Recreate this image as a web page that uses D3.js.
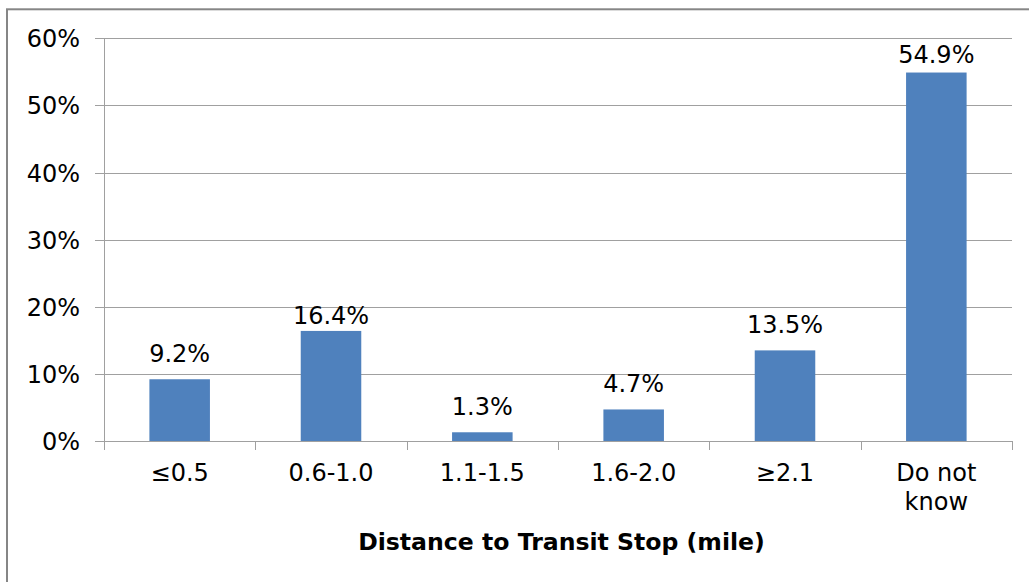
<!DOCTYPE html>
<html>
<head>
<meta charset="utf-8">
<script src="https://cdn.jsdelivr.net/npm/d3@7"></script>
<style>
  html, body { margin: 0; padding: 0; background: #fff; }
  svg { display: block; }
  text { font-family: "DejaVu Sans", Verdana, sans-serif; fill: #000; }
</style>
</head>
<body>
<svg id="chart" width="1029" height="582"></svg>
<script>
// Share of respondents by distance to the nearest transit stop
const categories = ["≤0.5", "0.6-1.0", "1.1-1.5", "1.6-2.0", "≥2.1", "Do not know"];
const values = [9.2, 16.4, 1.3, 4.7, 13.5, 54.9];
const yTicks = [0, 10, 20, 30, 40, 50, 60];
const xTitle = "Distance to Transit Stop (mile)";

const svg = d3.select("#chart");
const W = 1029, H = 582;
const plot = { left: 104, right: 1012, top: 38.3, bottom: 441 };
const fontSize = 24;

// outer frame (extends past the right and bottom edges)
svg.append("rect")
  .attr("x", 7).attr("y", 9.3)
  .attr("width", W + 20).attr("height", H + 20)
  .attr("fill", "#fff")
  .attr("stroke", "#868686").attr("stroke-width", 2);

const x = d3.scaleBand().domain(categories).range([plot.left, plot.right]).padding(0);
const y = d3.scaleLinear().domain([0, 60]).range([plot.bottom, plot.top]);

// horizontal gridlines
svg.append("g")
  .selectAll("line")
  .data(yTicks)
  .join("line")
  .attr("x1", plot.left - 9).attr("x2", plot.right)
  .attr("y1", d => Math.round(y(d)) + 0.5).attr("y2", d => Math.round(y(d)) + 0.5)
  .attr("stroke", "#a0a0a0").attr("stroke-width", 1);

// y axis line
svg.append("line")
  .attr("x1", plot.left + 0.5).attr("x2", plot.left + 0.5)
  .attr("y1", plot.top).attr("y2", plot.bottom + 9)
  .attr("stroke", "#a0a0a0");

// y tick labels
svg.append("g")
  .selectAll("text")
  .data(yTicks)
  .join("text")
  .attr("x", 80)
  .attr("y", d => y(d) + 9)
  .attr("text-anchor", "end")
  .attr("font-size", fontSize)
  .text(d => d + "%");

// x category ticks
const tickPos = categories.map(c => x(c)).concat([plot.right]);
svg.append("g")
  .selectAll("line")
  .data(tickPos)
  .join("line")
  .attr("x1", d => Math.round(d) + 0.5).attr("x2", d => Math.round(d) + 0.5)
  .attr("y1", plot.bottom).attr("y2", plot.bottom + 9)
  .attr("stroke", "#a0a0a0");

// bars
const barW = x.bandwidth() * 0.4;
svg.append("g")
  .selectAll("rect")
  .data(values)
  .join("rect")
  .attr("x", (d, i) => x(categories[i]) + (x.bandwidth() - barW) / 2)
  .attr("y", d => y(d))
  .attr("width", barW)
  .attr("height", d => y(0) - y(d))
  .attr("fill", "#4f81bd");

// value labels; two of them sit closer to their bars
const labelGap = c => (c === "0.6-1.0" ? 7 : c === "Do not know" ? 10 : 17);
svg.append("g")
  .selectAll("text")
  .data(values)
  .join("text")
  .attr("x", (d, i) => x(categories[i]) + x.bandwidth() / 2)
  .attr("y", (d, i) => y(d) - labelGap(categories[i]))
  .attr("text-anchor", "middle")
  .attr("font-size", fontSize)
  .text(d => d.toFixed(1) + "%");

// category labels (wrapped where needed)
const catG = svg.append("g");
categories.forEach(c => {
  const words = c === "Do not know" ? ["Do not", "know"] : [c];
  const t = catG.append("text")
    .attr("x", x(c) + x.bandwidth() / 2)
    .attr("y", 481)
    .attr("text-anchor", "middle")
    .attr("font-size", fontSize);
  words.forEach((w, i) => {
    t.append("tspan")
      .attr("x", x(c) + x.bandwidth() / 2)
      .attr("dy", i === 0 ? 0 : 29)
      .text(w);
  });
});

// x axis title, sized to span 407px
const title = svg.append("text")
  .attr("x", 561.5)
  .attr("y", 550)
  .attr("text-anchor", "middle")
  .attr("font-size", 24)
  .attr("font-weight", "bold")
  .text(xTitle);
const tw = title.node().getComputedTextLength();
title.attr("font-size", 24 * 407 / tw);
</script>
</body>
</html>
